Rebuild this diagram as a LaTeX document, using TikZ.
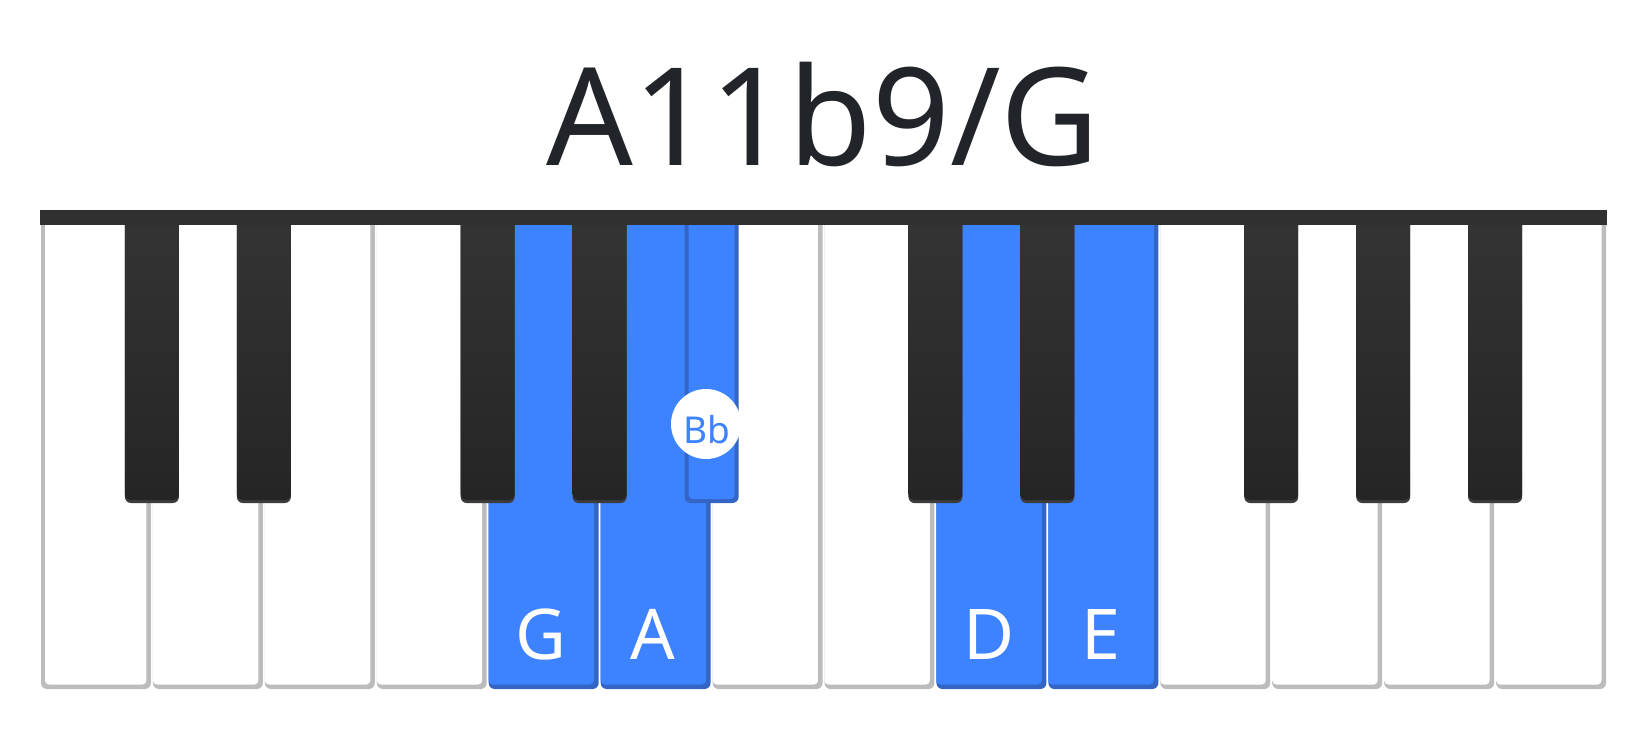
\documentclass[tikz,border=0pt]{standalone}
\usepackage{fontspec}
\setmainfont{Noto Sans}
\definecolor{keyblue}{RGB}{61,130,255}
\definecolor{keyblueedge}{RGB}{52,101,196}
\definecolor{wedge}{RGB}{188,188,188}
\definecolor{barcol}{RGB}{48,48,48}
\definecolor{titlecol}{RGB}{33,37,41}
\definecolor{bktop}{RGB}{52,52,52}
\definecolor{bkbot}{RGB}{37,37,37}
\definecolor{bkrim}{RGB}{60,60,60}
\begin{document}
\begin{tikzpicture}[x=0.5pt,y=-0.5pt,
  outerkey/.style={rounded corners=3pt},
  innerkey/.style={rounded corners=2pt},
  keylabel/.style={anchor=base, text=white, font=\fontsize{35pt}{40pt}\selectfont},
  titlestyle/.style={anchor=base, text=titlecol, font=\fontsize{68pt}{80pt}\selectfont},
  dotstyle/.style={circle, fill=white, minimum size=35pt, inner sep=0pt},
  dotlabel/.style={anchor=base, text=keyblue, font=\fontsize{18.5pt}{20pt}\selectfont}]
\useasboundingbox (0,0) rectangle (1650,740);
\fill[white] (0,0) rectangle (1650,740);
\def\kw{111.93}
% white keys
\foreach \i/\edge/\face in {0/wedge/white,1/wedge/white,2/wedge/white,3/wedge/white,
  4/keyblueedge/keyblue,5/keyblueedge/keyblue,6/wedge/white,7/wedge/white,
  8/keyblueedge/keyblue,9/keyblueedge/keyblue,10/wedge/white,11/wedge/white,
  12/wedge/white,13/wedge/white} {
  \pgfmathsetmacro\L{40+\i*\kw}
  \pgfmathsetmacro\IL{\i==0 ? \L+5 : \L+1}
  \fill[\edge, outerkey] (\L+1,212) rectangle (\L+110.93,689);
  \fill[\face, innerkey] (\IL,212) rectangle (\L+106.4,684.5);
}
% black keys
\foreach \k in {1,2,4,5,8,9,11,12,13} {
  \pgfmathsetmacro\B{40+\k*\kw}
  \fill[bkrim, outerkey] (\B-27,212) rectangle (\B+27,503);
  \shade[top color=bktop, bottom color=bkbot, outerkey] (\B-27,212) rectangle (\B+27,500);
}
% highlighted black key (Bb)
\pgfmathsetmacro\B{40+6*\kw}
\fill[keyblueedge, outerkey] (\B-27,212) rectangle (\B+27,503);
\fill[keyblue, innerkey] (\B-23,212) rectangle (\B+23,499);
% top bar
\fill[barcol] (40,210) rectangle (1607,225);
% title
\node[titlestyle] (title) at (823,165) {A11b9/G};
% labels
\node[keylabel] (lG) at (541,659) {G};
\node[keylabel] (lA) at (653,659) {A};
\node[keylabel] (lD) at (989,659) {D};
\node[keylabel] (lE) at (1101,659) {E};
\node[dotstyle] (bbdot) at (706,424) {};
\node[dotlabel] (bblabel) at (707,443) {Bb};
\end{tikzpicture}
\end{document}
